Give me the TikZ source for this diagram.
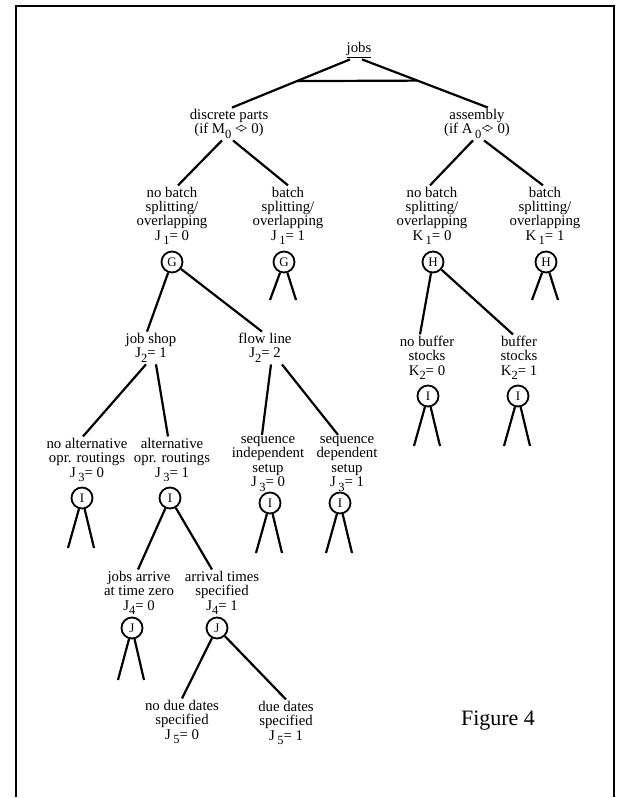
\documentclass[tikz,border=0pt]{standalone}
\usepackage{fontspec}
\setmainfont{Liberation Serif}
\usetikzlibrary{positioning,calc}

\newcommand{\lowsub}[1]{\raisebox{-.32em}{\fontsize{12.5}{12.5}\selectfont #1}}
\newcommand{\neqz}{<\kern-.28em>}

\tikzset{
  lbl/.style={align=center,inner sep=1.5pt,font=\fontsize{14.8}{14.3}\selectfont},
  var/.style={circle,draw,line width=1.8pt,minimum size=21pt,inner sep=0pt,font=\fontsize{13}{13}\selectfont},
  branch/.style={line width=2.2pt},
}

\begin{document}
\begin{tikzpicture}[x=1pt,y=-1pt]
\useasboundingbox (0,0) rectangle (627,798);
% frame
\draw[line width=1.8pt] (16,797) -- (16,6) -- (614,6) -- (614,797);

% labels
\node[lbl] (jobs) at (359,50) {\underline{jobs}};
\node[lbl] (dp) at (229,124) {discrete parts\\(if M\lowsub{0} \neqz\ 0)};
\node[lbl] (asm) at (477,124) {assembly\\(if A\,\lowsub{0}\neqz\ 0)};

\node[lbl] (nbJ) at (172,216) {no batch\\splitting/\\overlapping\\J\,\lowsub{1}= 0};
\node[lbl] (bJ) at (288,216) {batch\\splitting/\\overlapping\\J\,\lowsub{1}= 1};
\node[lbl] (nbK) at (432,216) {no batch\\splitting/\\overlapping\\K\,\lowsub{1}= 0};
\node[lbl] (bK) at (545,216) {batch\\splitting/\\overlapping\\K\,\lowsub{1}= 1};

\node[var] (G1) at (172,262) {G};
\node[var] (G2) at (284,262) {G};
\node[var] (H1) at (433,262) {H};
\node[var] (H2) at (546,262) {H};

\node[lbl] (js) at (151,348) {job shop\\J\lowsub{2}= 1};
\node[lbl] (fl) at (265,348) {flow line\\J\lowsub{2}= 2};
\node[lbl] (nbuf) at (427,358) {no buffer\\stocks\\K\lowsub{2}= 0};
\node[lbl] (buf) at (519,358) {buffer\\stocks\\K\lowsub{2}= 1};

\node[var] (Ik1) at (428,396) {I};
\node[var] (Ik2) at (518,396) {I};

\node[lbl] (noalt) at (87,460) {no alternative\\opr. routings\\J\,\lowsub{3}= 0};
\node[lbl] (alt) at (172,460) {alternative\\opr. routings\\J\,\lowsub{3}= 1};
\node[lbl] (seqi) at (268,464) {sequence\\independent\\setup\\J\,\lowsub{3}= 0};
\node[lbl] (seqd) at (347,464) {sequence\\dependent\\setup\\J\,\lowsub{3}= 1};

\node[var] (Ia) at (82,498) {I};
\node[var] (Ib) at (170,498) {I};
\node[var] (Is1) at (270,503) {I};
\node[var] (Is2) at (340,503) {I};

\node[lbl] (jarr) at (139,593) {jobs arrive\\at time zero\\J\lowsub{4}= 0};
\node[lbl] (atim) at (222,593) {arrival times\\specified\\J\lowsub{4}= 1};

\node[var] (Ja) at (132,628) {J};
\node[var] (Jb) at (217,628) {J};

\node[lbl] (nodd) at (182,722) {no due dates\\specified\\J\,\lowsub{5}= 0};
\node[lbl] (dd) at (286,723) {due dates\\specified\\J\,\lowsub{5}= 1};

\node[font=\fontsize{22}{22}\selectfont] (fig) at (498,721) {Figure 4};

% branches
\draw[branch] ([xshift=-9]jobs.south) -- coordinate[pos=.45] (barl) ([xshift=3]dp.north);
\draw[branch] ([xshift=3]jobs.south) -- coordinate[pos=.44] (barr) ([xshift=11]asm.north);
\draw[branch] (barl) -- (barr);

\draw[branch] ([xshift=-7]dp.south) -- ([xshift=6]nbJ.north);
\draw[branch] ([xshift=4]dp.south) -- (bJ.north);
\draw[branch] ([xshift=-4]asm.south) -- ([xshift=-2]nbK.north);
\draw[branch] ([xshift=7]asm.south) -- ([xshift=-2]bK.north);

\draw[branch] (G1) -- ([xshift=-4]js.north);
\draw[branch] (G1) -- ([xshift=-3]fl.north);
\draw[branch] (H1) -- ([xshift=-7]nbuf.north);
\draw[branch] (H1) -- ([xshift=-6]buf.north);

\draw[branch] ([xshift=-5]js.south) -- ([xshift=-4]noalt.north);
\draw[branch] ([xshift=5]js.south) -- ([xshift=-4]alt.north);
\draw[branch] ([xshift=6]fl.south) -- ([xshift=-6]seqi.north);
\draw[branch] ([xshift=17]fl.south) -- ([xshift=-9]seqd.north);

\draw[branch] (Ib) -- ([xshift=-1]jarr.north);
\draw[branch] (Ib) -- ([xshift=-10]atim.north);
\draw[branch] (Jb) -- (nodd.north);
\draw[branch] (Jb) -- (dd.north);

% open legs
\foreach \c/\len in {G2/38,H2/38,Ik1/50,Ik2/50,Ia/50,Is1/50,Is2/50,Ja/52} {
  \coordinate (\c-l) at ($(\c)+(-14,\len)$);
  \coordinate (\c-r) at ($(\c)+(12,\len)$);
  \draw[branch] (\c) -- (\c-l);
  \draw[branch] (\c) -- (\c-r);
}
\end{tikzpicture}
\end{document}
